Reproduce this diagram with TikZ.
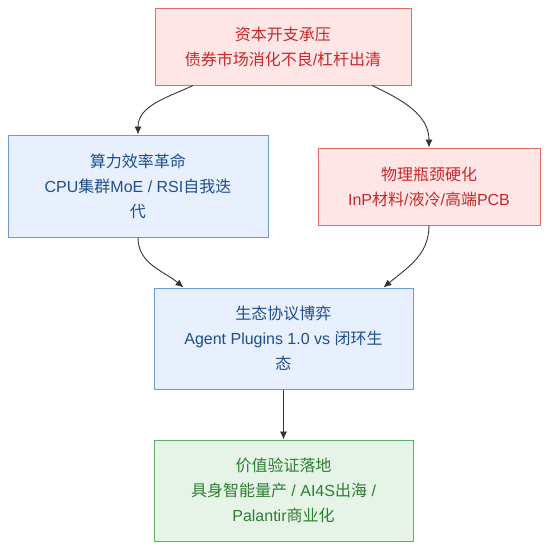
\documentclass[tikz,border=0pt]{standalone}
\usepackage{fontspec}
\setmainfont{Liberation Sans}
\newfontfamily\cjk{Noto Sans CJK SC}
\usepackage{tikz}
\usetikzlibrary{arrows.meta,positioning}

\definecolor{redfill}{HTML}{FFE6E6}
\definecolor{redline}{HTML}{E06B6B}
\definecolor{redtext}{HTML}{C62828}
\definecolor{bluefill}{HTML}{E7F0FC}
\definecolor{blueline}{HTML}{6C9BD2}
\definecolor{bluetext}{HTML}{1F4E8C}
\definecolor{greenfill}{HTML}{E6F4E8}
\definecolor{greenline}{HTML}{5CB05F}
\definecolor{greentext}{HTML}{2E7D32}
\definecolor{edgecol}{HTML}{333333}

\begin{document}
\begin{tikzpicture}[x=1pt,y=-1pt]
\tikzset{
    box/.style={rectangle, draw, line width=1pt, align=center,
                font=\fontsize{16}{25}\selectfont, inner sep=0pt},
    redbox/.style={box, fill=redfill, draw=redline, text=redtext},
    bluebox/.style={box, fill=bluefill, draw=blueline, text=bluetext},
    greenbox/.style={box, fill=greenfill, draw=greenline, text=greentext},
    flow/.style={draw=edgecol, line width=0.9pt,
                 -{Latex[length=8pt,width=7pt]}}
}
\useasboundingbox (0,0) rectangle (548,550);

\node[redbox, minimum width=256pt, minimum height=77pt] (capex) at (283,46.5)
    {{\cjk 资本开支承压}\\{\cjk 债券市场消化不良}/{\cjk 杠杆出清}};
\node[bluebox, minimum width=260pt, minimum height=102pt] (compute) at (138,186)
    {{\cjk 算力效率革命}\\CPU{\cjk 集群}MoE / RSI{\cjk 自我迭}\\{\cjk 代}};
\node[redbox, minimum width=222pt, minimum height=77pt] (physics) at (429,186.5)
    {{\cjk 物理瓶颈硬化}\\InP{\cjk 材料}/{\cjk 液冷}/{\cjk 高端}PCB};
\node[bluebox, minimum width=259pt, minimum height=101pt] (ecosystem) at (283.5,338.5)
    {{\cjk 生态协议博弈}\\Agent Plugins 1.0 vs {\cjk 闭环生}\\{\cjk 态}};
\node[greenbox, minimum width=259pt, minimum height=101pt] (value) at (283.5,490.5)
    {{\cjk 价值验证落地}\\{\cjk 具身智能量产} / AI4S{\cjk 出海} /\\Palantir{\cjk 商业化}};

% edges
\draw[flow] ([xshift=-90pt]capex.south) to[out=205, in=90] (compute.north);
\draw[flow] ([xshift=89pt]capex.south) to[out=-25, in=90] (physics.north);
\draw[flow] (compute.south) to[out=-90, in=140] ([xshift=-100pt]ecosystem.north);
\draw[flow] (physics.south) to[out=-90, in=40] ([xshift=100pt]ecosystem.north);
\draw[flow] (ecosystem) -- (value);
\end{tikzpicture}
\end{document}
